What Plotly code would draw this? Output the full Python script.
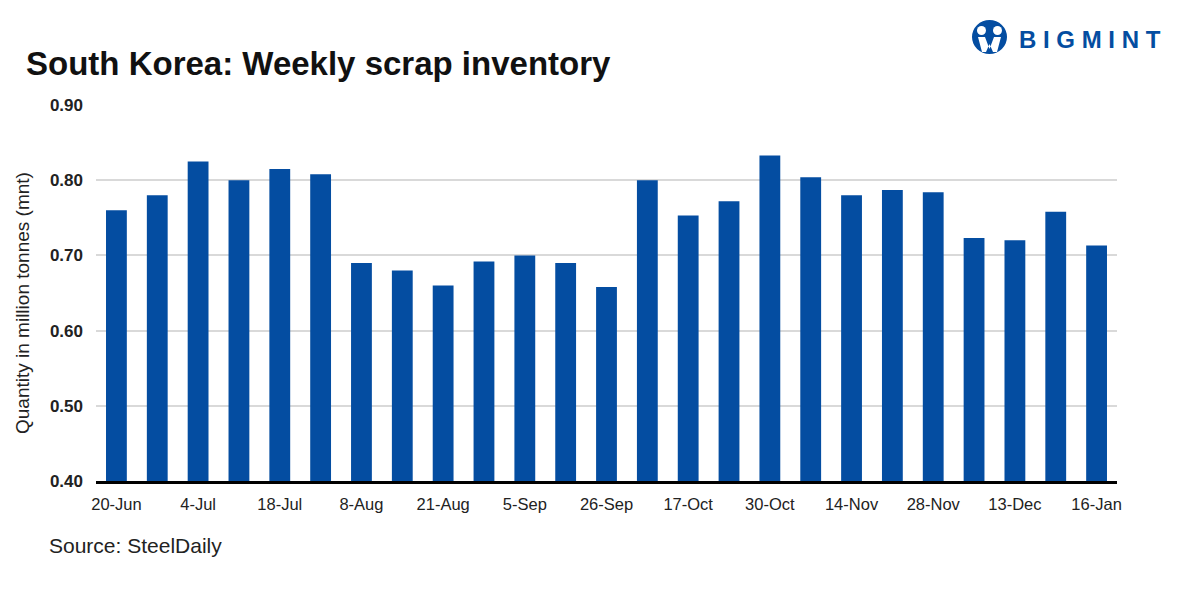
import plotly.graph_objects as go

weeks = ["20-Jun", "27-Jun", "4-Jul", "11-Jul", "18-Jul", "25-Jul", "8-Aug", "14-Aug",
         "21-Aug", "29-Aug", "5-Sep", "12-Sep", "26-Sep", "10-Oct", "17-Oct", "24-Oct",
         "30-Oct", "7-Nov", "14-Nov", "21-Nov", "28-Nov", "5-Dec", "13-Dec", "9-Jan", "16-Jan"]
inventory = [0.760, 0.780, 0.825, 0.800, 0.815, 0.808, 0.690, 0.680,
             0.660, 0.692, 0.700, 0.690, 0.658, 0.800, 0.753, 0.772,
             0.833, 0.804, 0.780, 0.787, 0.784, 0.723, 0.720, 0.758, 0.713]
tick_labels = weeks[::2]
y_ticks = [0.40, 0.50, 0.60, 0.70, 0.80, 0.90]

BLUE = "#044da1"
FONT = "Liberation Sans"

# the page body has an 8px margin; figure is sized so the plot lands where the reference has it
W, H = 1173, 583
L, R, T, B = 88, 64, 97, 110

fig = go.Figure(go.Bar(x=weeks, y=inventory, marker=dict(color=BLUE, line=dict(width=0)),
                       width=0.51, hoverinfo="x+y"))

fig.update_layout(
    width=W, height=H,
    margin=dict(l=L, r=R, t=T, b=B),
    plot_bgcolor="white", paper_bgcolor="white",
    showlegend=False,
    font=dict(family=FONT, color="#222222"),
    xaxis=dict(
        type="category", categoryorder="array", categoryarray=weeks,
        tickmode="array", tickvals=tick_labels, ticktext=tick_labels,
        tickfont=dict(size=16.5, color="#222222"), tickangle=0,
        showgrid=False, showline=True, linecolor="black", linewidth=3,
        ticks="", ticklen=0, ticklabelstandoff=6, range=[-0.5, len(weeks) - 0.5],
    ),
    yaxis=dict(
        range=[0.40, 0.90], tickmode="array", tickvals=y_ticks,
        ticktext=[f"<b>{v:.2f}</b>" for v in y_ticks],
        tickfont=dict(size=17, color="#222222"),
        showgrid=True, gridcolor="#d9d9d9", gridwidth=2,
        zeroline=False, showline=False, ticks="", ticklabelstandoff=12,
    ),
    annotations=[
        dict(text="<b>South Korea: Weekly scrap inventory</b>", xref="paper", yref="paper",
             x=0, y=1.0, xanchor="left", yanchor="middle",
             xshift=-72, yshift=42, showarrow=False,
             font=dict(size=33, color="#111111", family=FONT)),
        dict(text="Quantity in million tonnes (mnt)", xref="paper", yref="paper",
             x=0, y=0.5, xanchor="center", yanchor="middle", textangle=-90,
             xshift=-74, yshift=-10, showarrow=False,
             font=dict(size=19, color="#222222", family=FONT)),
        dict(text="Source: SteelDaily", xref="paper", yref="paper", x=0, y=0,
             xanchor="left", yanchor="middle", xshift=-49, yshift=-64, showarrow=False,
             font=dict(size=21, color="#222222", family=FONT)),
        dict(text="<b>B I G M I N T</b>", xref="paper", yref="paper", x=1.0, y=1.0,
             xanchor="left", yanchor="middle", xshift=-100, yshift=66, showarrow=False,
             font=dict(size=24, color=BLUE, family=FONT)),
    ],
)

# Logo icon (circle with white figures); page pixel coordinates mapped to paper
pw = W - L - R
ph = H - T - B
def px(x):
    return (x - 8 - L) / pw
def py(y):
    return (H - B - (y - 8)) / ph

shapes = [
    dict(type="circle", xref="paper", yref="paper", x0=px(972), x1=px(1007), y0=py(54), y1=py(20),
         fillcolor=BLUE, line=dict(width=0)),
    dict(type="circle", xref="paper", yref="paper", x0=px(977), x1=px(986), y0=py(35), y1=py(26),
         fillcolor="white", line=dict(width=0)),
    dict(type="circle", xref="paper", yref="paper", x0=px(993), x1=px(1002), y0=py(35), y1=py(26),
         fillcolor="white", line=dict(width=0)),
    dict(type="path", xref="paper", yref="paper",
         path=f"M {px(978)},{py(37)} L {px(985)},{py(37)} L {px(989.5)},{py(49)} L {px(994)},{py(37)} "
              f"L {px(1001)},{py(37)} L {px(997)},{py(52)} L {px(993)},{py(52)} L {px(989.5)},{py(44)} "
              f"L {px(986)},{py(52)} L {px(982)},{py(52)} Z",
         fillcolor="white", line=dict(width=0)),
]
fig.update_layout(shapes=shapes)

fig.write_html("out.html")
